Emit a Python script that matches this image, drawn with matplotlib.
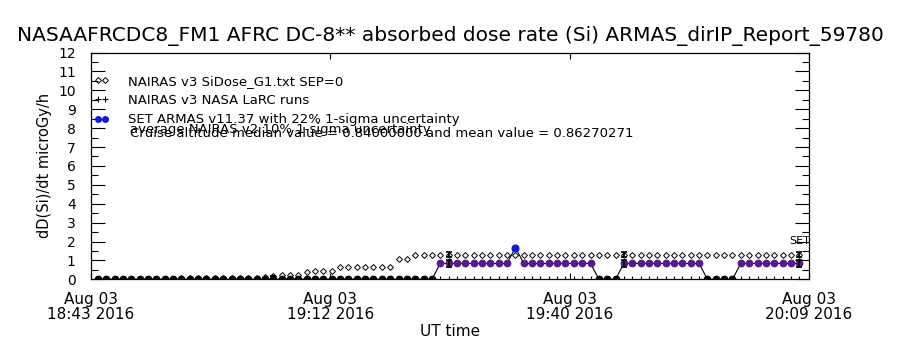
import numpy as np
import pandas as pd
import matplotlib
matplotlib.use('Agg')
import matplotlib.pyplot as plt
import matplotlib.dates as mdates
from matplotlib.lines import Line2D
from matplotlib.path import Path

# 1-minute samples starting at 18:44 UT
start_time = '2016-08-03 18:44:00'
axis_start = '2016-08-03 18:43:10'
axis_end = '2016-08-03 20:09:10'

# SET ARMAS absorbed dose rate (microGy/h)
armas_dose = [0.0, 0.0, 0.0, 0.0, 0.0, 0.0, 0.0, 0.0, 0.0, 0.0,
              0.0, 0.0, 0.0, 0.0, 0.0, 0.0, 0.0, 0.0, 0.0, 0.0,
              0.0, 0.0, 0.0, 0.0, 0.0, 0.0, 0.0, 0.0, 0.0, 0.0,
              0.0, 0.0, 0.0, 0.0, 0.0, 0.0, 0.0, 0.0, 0.0, 0.0,
              0.0, 0.84, 0.84, 0.84, 0.84, 0.84, 0.84, 0.84, 0.84, 0.84,
              1.68, 0.84, 0.84, 0.84, 0.84, 0.84, 0.84, 0.84, 0.84, 0.84,
              0.0, 0.0, 0.0, 0.84, 0.84, 0.84, 0.84, 0.84, 0.84, 0.84,
              0.84, 0.84, 0.84, 0.0, 0.0, 0.0, 0.0, 0.84, 0.84, 0.84,
              0.84, 0.84, 0.84, 0.84, 0.84]

# NAIRAS v3 SiDose_G1 model values
nairas_dose = [0.03, 0.03, 0.03, 0.03, 0.03, 0.03, 0.03, 0.03, 0.03, 0.03,
               0.05, 0.05, 0.05, 0.05, 0.05, 0.05, 0.08, 0.08, 0.08, 0.08,
               0.12, 0.17, 0.21, 0.21, 0.21, 0.36, 0.46, 0.46, 0.46, 0.66,
               0.66, 0.66, 0.66, 0.66, 0.66, 0.66, 1.07, 1.07, 1.31, 1.31,
               1.31, 1.31, 1.31, 1.31, 1.31, 1.31, 1.31, 1.31, 1.31, 1.31,
               1.31, 1.31, 1.31, 1.31, 1.31, 1.31, 1.31, 1.31, 1.31, 1.31,
               1.31, 1.31, 1.31, 1.31, 1.31, 1.31, 1.31, 1.31, 1.31, 1.31,
               1.31, 1.31, 1.31, 1.31, 1.31, 1.31, 1.31, 1.31, 1.31, 1.31,
               1.31, 1.31, 1.31, 1.31, 1.31]

# NAIRAS v3 NASA LaRC runs (no data -> 0)
larc_dose = [0.0, 0.0, 0.0, 0.0, 0.0, 0.0, 0.0, 0.0, 0.0, 0.0,
             0.0, 0.0, 0.0, 0.0, 0.0, 0.0, 0.0, 0.0, 0.0, 0.0,
             0.0, 0.0, 0.0, 0.0, 0.0, 0.0, 0.0, 0.0, 0.0, 0.0,
             0.0, 0.0, 0.0, 0.0, 0.0, 0.0, 0.0, 0.0, 0.0, 0.0,
             0.0, 0.0, 0.0, 0.0, 0.0, 0.0, 0.0, 0.0, 0.0, 0.0,
             0.0, 0.0, 0.0, 0.0, 0.0, 0.0, 0.0, 0.0, 0.0, 0.0,
             0.0, 0.0, 0.0, 0.0, 0.0, 0.0, 0.0, 0.0, 0.0, 0.0,
             0.0, 0.0, 0.0, 0.0, 0.0, 0.0, 0.0, 0.0, 0.0, 0.0,
             0.0, 0.0, 0.0, 0.0, 0.0]

set_idx = [50]                      # SET event sample
errbar_idx = [0, 21, 42, 63, 84]    # samples with uncertainty bars
armas_sigma = 0.22
nairas_sigma = 0.10

tick_labels = ['Aug 03\n18:43 2016', 'Aug 03\n19:12 2016',
               'Aug 03\n19:40 2016', 'Aug 03\n20:09 2016']

title = 'NASAAFRCDC8_FM1 AFRC DC-8** absorbed dose rate (Si) ARMAS_dirIP_Report_59780'
legend_labels = ['NAIRAS v3 SiDose_G1.txt SEP=0',
                 'NAIRAS v3 NASA LaRC runs',
                 'SET ARMAS v11.37 with 22% 1-sigma uncertainty']
note1 = 'average NAIRAS v2 10% 1-sigma uncertainty'
note2 = 'Cruise altitude median value = 0.84000000 and mean value = 0.86270271'

purple = '#561b8d'
blue = '#1414e6'

plt.rcParams['font.family'] = ['DejaVu Sans']

# points sitting on the axis only show their upper half
half_dot = Path.wedge(0, 180)
half_plus = Path([(0, 0), (0, 1)], [Path.MOVETO, Path.LINETO])

times = pd.date_range(start_time, periods=len(armas_dose), freq='1min')
x = mdates.date2num(times.to_pydatetime())
armas = np.array(armas_dose)
nairas = np.array(nairas_dose)
larc = np.array(larc_dose)

fig = plt.figure(figsize=(9, 3.5), dpi=100)
ax = fig.add_axes([91/900, 1 - 279.3/350, 718/900, 226.8/350])

# model diamonds
ax.plot(x, nairas, ls='none', marker='D', ms=3.0, mfc='none', mec='k', mew=0.7, zorder=3)
# ARMAS connecting line
ax.plot(x, armas, color='k', lw=0.8, zorder=2)
# LaRC runs
ax.plot(x, larc, ls='none', marker=half_plus, ms=4.5, color='k', mew=0.8, zorder=2)

zero = armas == 0
is_set = np.zeros(len(armas), dtype=bool)
is_set[set_idx] = True
normal = ~zero & ~is_set
ax.plot(x[normal], armas[normal], ls='none', marker='o', ms=4.6, color=purple, zorder=4)
ax.plot(x[zero], armas[zero], ls='none', marker=half_dot, ms=4.6, color='k', zorder=4)
ax.plot(x[is_set], armas[is_set], ls='none', marker='o', ms=4.8, color=blue, zorder=4)

# uncertainty bars
eb = np.array(errbar_idx)
ax.errorbar(x[eb], armas[eb], yerr=armas[eb]*armas_sigma, fmt='none', ecolor='k',
            elinewidth=1.3, capsize=2.5, capthick=1.2, zorder=5)
ax.errorbar(x[eb], nairas[eb], yerr=nairas[eb]*nairas_sigma, fmt='none', ecolor='k',
            elinewidth=1.3, capsize=2.5, capthick=1.2, zorder=5)

ax.text(x[-1], 2.05, 'SET', fontsize=8, ha='center', va='center')

t0 = mdates.date2num(pd.Timestamp(axis_start).to_pydatetime())
t1 = mdates.date2num(pd.Timestamp(axis_end).to_pydatetime())
ax.set_xlim(t0, t1)
ax.set_ylim(0, 12)
ax.set_xticks(np.linspace(t0, t1, len(tick_labels)))
ax.set_xticklabels(tick_labels, fontsize=11, linespacing=1.05)
ax.set_yticks(np.arange(0, 13))
ax.set_yticks(np.arange(0, 12.5, 0.5), minor=True)
ax.tick_params(axis='y', which='major', direction='in', left=True, right=True,
               length=10, width=0.8, labelsize=10, pad=11)
ax.tick_params(axis='y', which='minor', direction='in', left=True, right=True,
               length=5, width=0.8)
ax.tick_params(axis='x', which='major', direction='in', bottom=True, top=True,
               length=4, width=0.8, pad=9)
for s in ax.spines.values():
    s.set_linewidth(0.9)

ax.set_xlabel('UT time', fontsize=11, labelpad=1)
ax.set_ylabel('dD(Si)/dt microGy/h', fontsize=10.5, labelpad=4)
ax.set_title(title, fontsize=14.5, pad=8)

handles = [Line2D([], [], ls='none', marker='D', ms=3.0, mfc='none', mec='k', mew=0.7),
           Line2D([], [], ls='none', marker='+', ms=4.5, color='k', mew=0.8),
           Line2D([], [], ls='none', marker='o', ms=4, color=blue)]
ax.legend(handles, legend_labels, loc='upper left', bbox_to_anchor=(0.004, 0.902),
          numpoints=2, frameon=False, fontsize=9.5, handlelength=1.13,
          handletextpad=1.45, borderpad=0, borderaxespad=0, labelspacing=0.47)

ax.text(130/900, 1 - 132.7/350, note1, transform=fig.transFigure, fontsize=9.5,
        va='baseline', ha='left')
ax.text(130/900, 1 - 136.7/350, note2, transform=fig.transFigure, fontsize=9.5,
        va='baseline', ha='left')

fig.savefig('out.png', dpi=100)
